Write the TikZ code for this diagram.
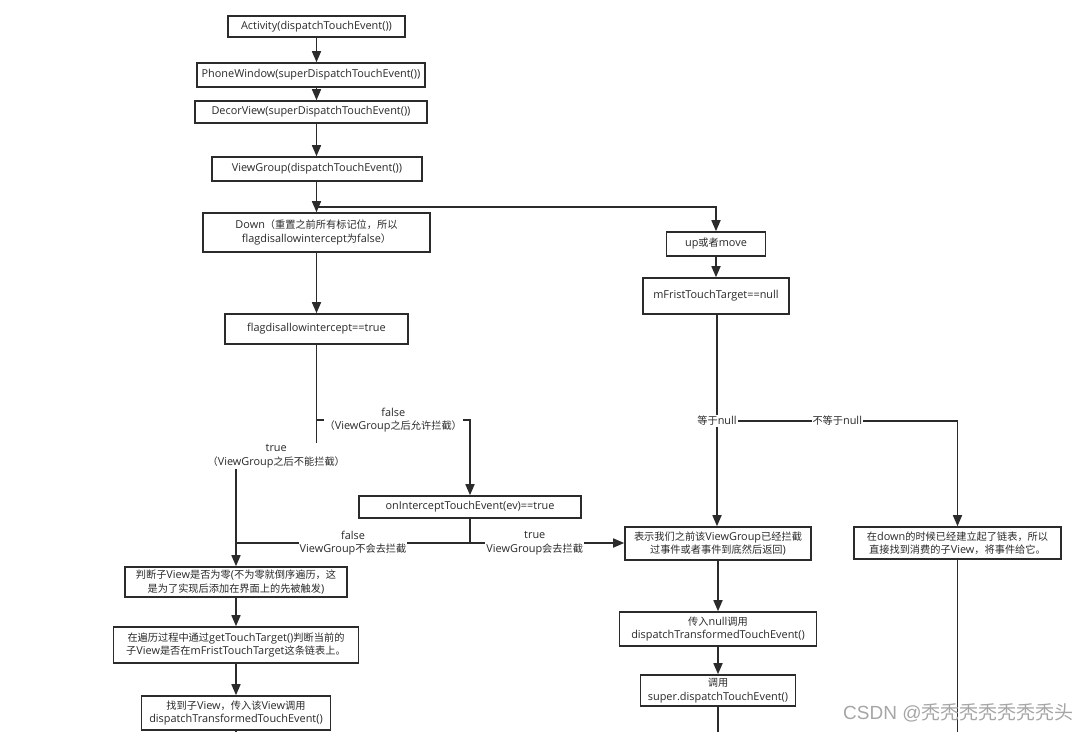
\documentclass[tikz,border=0pt]{standalone}
\usepackage{fontspec}
\setmainfont{Open Sans}
\newfontfamily\cjkfam{Noto Sans CJK SC}
\newfontfamily\latfam{Open Sans}
\newfontfamily\wmlat{Liberation Sans}
\newcommand\cjkf{\cjkfam\fontsize{10.2}{13.5}\selectfont}
\newcommand\latf{\latfam\fontsize{10.9}{13.5}\selectfont}
\XeTeXinterchartokenstate=1
\newXeTeXintercharclass\cjkcls
\newcount\cjkc
\def\setcjkrange#1#2{\cjkc=#1 \loop \XeTeXcharclass\cjkc=\cjkcls \ifnum\cjkc<#2 \advance\cjkc 1 \repeat}
\setcjkrange{"3000}{"303F}
\setcjkrange{"4E00}{"9FFF}
\setcjkrange{"FF00}{"FFEF}
\XeTeXinterchartoks 0 \cjkcls = {\cjkf}
\XeTeXinterchartoks 255 \cjkcls = {\cjkf}
\XeTeXinterchartoks \cjkcls 0 = {\latf}
\XeTeXinterchartoks 255 0 = {\latf}
\usetikzlibrary{arrows.meta,calc}
\definecolor{ln}{HTML}{2B2B2B}
\definecolor{tx}{HTML}{2A2A2A}
\tikzset{
  box/.style={draw=ln, line width=1.6pt, fill=white, text=tx, align=center, inner sep=0pt,
    font=\latf},
  conn/.style={draw=ln, line width=1.6pt},
  arr/.style={conn, -{Triangle[length=11pt,width=9pt]}},
  lbl/.style={fill=white, text=tx, align=center, inner sep=1pt, font=\latf},
}
\begin{document}
\begin{tikzpicture}[x=1pt,y=-1pt]
\useasboundingbox[fill=white] (0,0) rectangle (1090,732);
% left column boxes
\node[box, minimum width=177pt, minimum height=21pt] (act) at (316.5,26.5) {Activity(dispatchTouchEvent())};
\node[box, minimum width=228pt, minimum height=24pt] (pw) at (311,75) {PhoneWindow(superDispatchTouchEvent())};
\node[box, minimum width=232pt, minimum height=22pt] (dv) at (311,112) {DecorView(superDispatchTouchEvent())};
\node[box, minimum width=210pt, minimum height=24pt] (vg) at (317,169) {ViewGroup(dispatchTouchEvent())};
\node[box, minimum width=227pt, minimum height=39pt] (down) at (316.5,232.5) {Down（重置之前所有标记位，所以\\\latf flagdisallowintercept为false）};
\node[box, minimum width=183pt, minimum height=30pt] (flag) at (316.5,329) {flagdisallowintercept==true};
\node[box, minimum width=222pt, minimum height=22pt] (oi) at (470,507) {onInterceptTouchEvent(ev)==true};
\node[box, minimum width=222pt, minimum height=30pt] (pd) at (236,582) {\cjkf 判断子View是否为零(不为零就倒序遍历，这\\\cjkf 是为了实现后添加在界面上的先被触发)};
\node[box, minimum width=245pt, minimum height=36pt] (bl) at (236,645) {\cjkf 在遍历过程中通过getTouchTarget()判断当前的\\\cjkf 子View是否在mFristTouchTarget这条链表上。};
\node[box, minimum width=189pt, minimum height=34pt] (zd) at (236,713) {\cjkf 找到子View，传入该View调用\\\latf dispatchTransformedTouchEvent()};
% right column boxes
\node[box, minimum width=99pt, minimum height=24pt] (up) at (716,244) {up或者move};
\node[box, minimum width=146pt, minimum height=36pt] (mf) at (716,296) {mFristTouchTarget==null};
\node[box, minimum width=186pt, minimum height=33pt] (bs) at (718,543.5) {\cjkf 表示我们之前该ViewGroup已经拦截\\\cjkf 过事件或者事件到底然后返回)};
\node[box, minimum width=197pt, minimum height=34pt] (cr) at (718,629) {\cjkf 传入null调用\\\latf dispatchTransformedTouchEvent()};
\node[box, minimum width=155pt, minimum height=31pt] (dy) at (718,690.5) {\cjkf 调用\\\latf super.dispatchTouchEvent()};
\node[box, minimum width=207pt, minimum height=32pt] (zl) at (957.5,543) {\cjkf 在down的时候已经建立起了链表，所以\\\cjkf 直接找到消费的子View，将事件给它。};
% helper coordinates
\coordinate (mx) at (316.5,0);
\coordinate (br1) at (316.5,207);
\coordinate (tcorner) at (316.5,456);
\coordinate (tcorner2) at (236,456);
\coordinate (fcorner) at (316.5,420);
\coordinate (fcorner2) at (470,420);
\coordinate (ob) at (470,543);
\coordinate (j1) at (236,543);
\coordinate (r1) at (717,421);
\coordinate (e1) at (718,732);
\coordinate (e2) at (957.5,732);
\coordinate (e3) at (236,732);
% main column connectors
\draw[arr] (act.south) -- (mx |- pw.north);
\draw[arr] (mx |- pw.south) -- (mx |- dv.north);
\draw[arr] (mx |- dv.south) -- (mx |- vg.north);
\draw[arr] (mx |- vg.south) -- (mx |- down.north);
\draw[arr] (br1) -| (up.north);
\draw[arr] (down.south) -- (flag.north);
\draw[arr] (flag.south) -- (tcorner) -- (tcorner2) -- (pd.north);
\draw[arr] (fcorner) -- (fcorner2) -- (oi.north);
\node[lbl] (lf1) at ($(fcorner)!0.5!(fcorner2)$) {false\\\cjkf （ViewGroup之后允许拦截）};
\node[lbl] (lt1) at ($(tcorner)!0.5!(tcorner2)$) {true\\\cjkf （ViewGroup之后不能拦截）};
\draw[conn] (oi.south) -- (ob) -- node[lbl] (lf2) {false\\\latf ViewGroup不会去拦截} (j1);
\draw[arr] (ob) -- node[lbl, pos=0.42] (lt2) {true\\\latf ViewGroup会去拦截} (bs.west |- ob);
\draw[arr] (pd.south) -- (bl.north -| pd.south);
\draw[arr] (bl.south -| pd.south) -- (zd.north -| pd.south);
\draw[conn] (zd.south -| pd.south) -- (e3);
% right column connectors
\draw[arr] (up.south) -- (mf.north);
\draw[arr] (r1) -| node[lbl, pos=0.25] (lnn) {\cjkf 不等于null} (zl.north);
\draw[arr] (mf.south -| r1) -- (bs.north -| r1);
\node[lbl] (len) at (r1) {\cjkf 等于null};
\draw[arr] (bs.south) -- (cr.north);
\draw[arr] (cr.south) -- (dy.north);
\draw[conn] (dy.south) -- (e1);
\draw[conn] (zl.south) -- (e2);
% watermark
\node[text=black!35, inner sep=0pt, anchor=west] (wm) at (843,713) {\XeTeXinterchartokenstate=0 \fontsize{19}{22}\selectfont\wmlat CSDN @\cjkfam 秃秃秃秃秃秃秃头};
\end{tikzpicture}
\end{document}
